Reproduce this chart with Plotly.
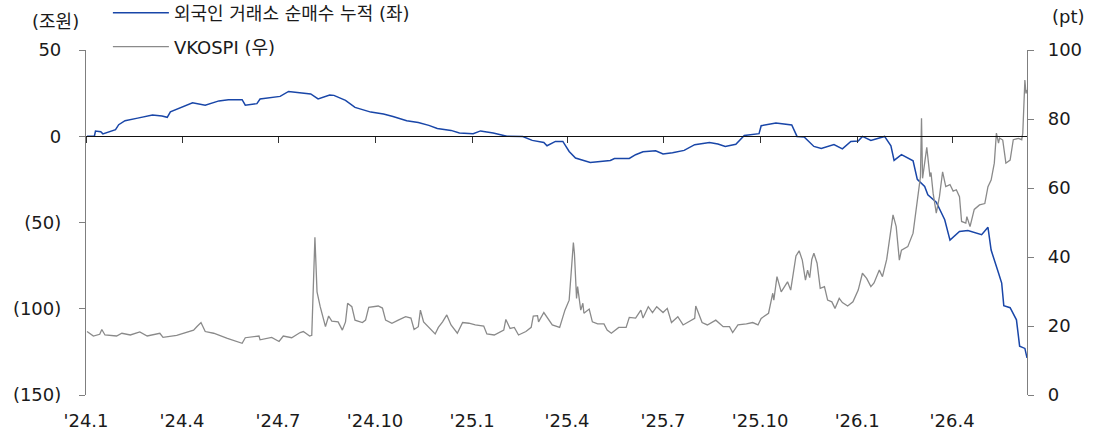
import plotly.graph_objects as go

# ---- data -----------------------------------------------------------------
flow_dates = [
    "2024-01-02", "2024-01-09", "2024-01-10", "2024-01-15", "2024-01-17", "2024-01-24", "2024-01-29",
    "2024-02-01", "2024-02-07", "2024-02-19", "2024-03-04", "2024-03-13", "2024-03-18", "2024-03-21",
    "2024-03-29", "2024-04-11", "2024-04-23", "2024-05-06", "2024-05-15", "2024-05-28", "2024-05-31",
    "2024-06-11", "2024-06-14", "2024-06-27", "2024-07-03", "2024-07-11", "2024-07-22", "2024-08-01",
    "2024-08-08", "2024-08-19", "2024-08-23", "2024-09-03", "2024-09-12", "2024-09-27", "2024-10-09",
    "2024-10-18", "2024-10-31", "2024-11-11", "2024-11-21", "2024-11-29", "2024-12-12", "2024-12-20",
    "2025-01-02", "2025-01-09", "2025-01-21", "2025-02-03", "2025-02-18", "2025-02-27", "2025-03-10",
    "2025-03-13", "2025-03-21", "2025-03-28", "2025-04-03", "2025-04-09", "2025-04-23", "2025-05-12",
    "2025-05-16", "2025-05-30", "2025-06-05", "2025-06-12", "2025-06-24", "2025-07-01", "2025-07-10",
    "2025-07-21", "2025-07-31", "2025-08-14", "2025-08-22", "2025-08-29", "2025-09-08", "2025-09-16",
    "2025-09-30", "2025-10-02", "2025-10-16", "2025-10-27", "2025-10-31", "2025-11-05", "2025-11-12",
    "2025-11-21", "2025-11-28", "2025-12-10", "2025-12-18", "2025-12-26", "2026-01-02", "2026-01-06",
    "2026-01-14", "2026-01-27", "2026-02-02", "2026-02-05", "2026-02-12", "2026-02-23", "2026-02-27",
    "2026-03-06", "2026-03-09", "2026-03-17", "2026-03-25", "2026-03-30", "2026-04-08", "2026-04-16",
    "2026-04-29", "2026-05-05", "2026-05-08", "2026-05-15", "2026-05-18", "2026-05-20", "2026-05-26",
    "2026-06-01", "2026-06-04", "2026-06-09", "2026-06-11",
]
flow_values = [
    0.0, 0.2, 3.0, 2.6, 1.4, 2.8, 3.8,
    6.7, 9.0, 10.5, 12.3, 11.7, 11.0, 14.2,
    16.3, 19.4, 18.0, 20.5, 21.2, 21.2, 18.0,
    18.9, 21.6, 22.5, 23.1, 26.0, 25.1, 24.5,
    21.6, 23.9, 23.7, 20.8, 16.7, 14.0, 12.9,
    11.5, 9.0, 8.0, 6.3, 4.5, 3.4, 1.9,
    1.5, 3.1, 1.9, 0.0, -0.2, -2.4, -3.6,
    -5.5, -3.0, -3.0, -8.8, -12.6, -15.2, -14.0,
    -12.9, -12.9, -10.7, -9.0, -8.4, -10.3, -9.6,
    -8.2, -4.9, -3.6, -4.5, -5.9, -4.7, 0.5,
    1.5, 6.1, 7.7, 6.7, 6.5, -0.1, -0.5,
    -5.9, -7.1, -4.8, -7.3, -3.0, -2.8, -0.1,
    -2.4, -0.1, -5.5, -14.0, -10.6, -14.2, -25.0,
    -29.1, -33.9, -38.2, -48.4, -60.2, -55.2, -54.6,
    -57.1, -52.8, -66.0, -79.3, -85.1, -98.2, -99.4,
    -106.4, -121.7, -123.0, -128.5,
]

vk_dates = [
    "2024-01-02", "2024-01-08", "2024-01-14", "2024-01-16", "2024-01-19", "2024-01-30", "2024-02-04",
    "2024-02-12", "2024-02-21", "2024-02-28", "2024-03-11", "2024-03-14", "2024-03-27", "2024-04-06",
    "2024-04-12", "2024-04-15", "2024-04-19", "2024-04-23", "2024-05-01", "2024-05-14", "2024-05-23",
    "2024-05-28", "2024-05-31", "2024-06-13", "2024-06-14", "2024-06-25", "2024-07-02", "2024-07-06",
    "2024-07-14", "2024-07-22", "2024-07-25", "2024-07-31", "2024-08-02", "2024-08-05", "2024-08-07",
    "2024-08-10", "2024-08-15", "2024-08-18", "2024-08-21", "2024-08-27", "2024-08-31", "2024-09-03",
    "2024-09-05", "2024-09-09", "2024-09-12", "2024-09-19", "2024-09-22", "2024-09-25", "2024-10-04",
    "2024-10-08", "2024-10-11", "2024-10-17", "2024-10-23", "2024-10-30", "2024-11-04", "2024-11-07",
    "2024-11-11", "2024-11-13", "2024-11-16", "2024-11-23", "2024-11-27", "2024-11-30", "2024-12-04",
    "2024-12-08", "2024-12-12", "2024-12-18", "2024-12-23", "2024-12-29", "2025-01-04", "2025-01-12",
    "2025-01-15", "2025-01-22", "2025-01-31", "2025-02-02", "2025-02-06", "2025-02-10", "2025-02-14",
    "2025-02-21", "2025-02-26", "2025-02-28", "2025-03-04", "2025-03-05", "2025-03-10", "2025-03-18",
    "2025-03-25", "2025-03-30", "2025-04-03", "2025-04-07", "2025-04-08", "2025-04-10", "2025-04-11",
    "2025-04-14", "2025-04-16", "2025-04-17", "2025-04-22", "2025-04-25", "2025-04-30", "2025-05-06",
    "2025-05-09", "2025-05-13", "2025-05-20", "2025-05-27", "2025-05-30", "2025-06-05", "2025-06-10",
    "2025-06-12", "2025-06-17", "2025-06-21", "2025-06-25", "2025-07-01", "2025-07-05", "2025-07-09",
    "2025-07-15", "2025-07-20", "2025-07-31", "2025-08-01", "2025-08-07", "2025-08-12", "2025-08-20",
    "2025-08-27", "2025-09-02", "2025-09-05", "2025-09-10", "2025-09-18", "2025-09-24", "2025-09-29",
    "2025-10-02", "2025-10-09", "2025-10-13", "2025-10-14", "2025-10-17", "2025-10-21", "2025-10-27",
    "2025-10-30", "2025-11-04", "2025-11-07", "2025-11-10", "2025-11-13", "2025-11-15", "2025-11-17",
    "2025-11-19", "2025-11-21", "2025-11-24", "2025-11-27", "2025-12-01", "2025-12-04", "2025-12-08",
    "2025-12-11", "2025-12-15", "2025-12-18", "2025-12-23", "2025-12-28", "2026-01-02", "2026-01-06",
    "2026-01-10", "2026-01-14", "2026-01-17", "2026-01-22", "2026-01-25", "2026-01-29", "2026-02-01",
    "2026-02-04", "2026-02-07", "2026-02-10", "2026-02-12", "2026-02-18", "2026-02-23", "2026-02-26",
    "2026-02-28", "2026-03-02", "2026-03-03", "2026-03-04", "2026-03-08", "2026-03-11", "2026-03-12",
    "2026-03-14", "2026-03-17", "2026-03-20", "2026-03-23", "2026-03-26", "2026-03-30", "2026-04-02",
    "2026-04-05", "2026-04-08", "2026-04-10", "2026-04-14", "2026-04-15", "2026-04-18", "2026-04-22",
    "2026-04-27", "2026-05-02", "2026-05-05", "2026-05-08", "2026-05-11", "2026-05-13", "2026-05-15",
    "2026-05-16", "2026-05-19", "2026-05-22", "2026-05-26", "2026-05-29", "2026-06-03", "2026-06-06",
    "2026-06-07", "2026-06-09", "2026-06-10", "2026-06-11",
]
vk_values = [
    18.4, 17.1, 17.6, 19.0, 17.4, 17.1, 17.9,
    17.4, 18.3, 17.1, 17.9, 16.7, 17.3, 18.1,
    18.8, 19.8, 21.0, 18.4, 17.9, 16.4, 15.5,
    15.0, 16.6, 17.1, 16.0, 16.7, 15.5, 17.1,
    16.6, 18.1, 18.4, 17.1, 17.3, 45.7, 29.9,
    25.6, 19.8, 22.9, 21.4, 21.2, 18.8, 21.2,
    26.6, 25.6, 21.7, 21.0, 21.7, 25.4, 25.8,
    25.2, 21.7, 20.8, 21.7, 22.7, 22.3, 19.0,
    19.8, 24.6, 21.2, 18.8, 17.7, 19.6, 21.2,
    23.2, 20.3, 17.9, 21.0, 20.8, 20.3, 20.0,
    17.7, 17.4, 18.8, 21.9, 19.3, 19.6, 17.4,
    18.4, 19.6, 22.9, 23.0, 21.2, 23.9, 20.3,
    19.6, 24.6, 27.5, 44.2, 41.0, 28.0, 31.4,
    24.6, 26.6, 23.7, 24.9, 21.2, 20.6, 20.6,
    18.8, 17.9, 19.6, 19.6, 22.5, 22.3, 24.6,
    22.3, 25.6, 23.9, 25.6, 23.9, 25.1, 21.0,
    22.7, 20.3, 22.2, 25.8, 21.0, 20.3, 21.7,
    19.8, 19.8, 18.1, 20.3, 20.6, 21.0, 20.3,
    22.2, 23.7, 29.5, 27.5, 34.3, 29.9, 32.8,
    30.4, 40.3, 41.8, 39.1, 33.3, 36.2, 34.0,
    39.3, 41.1, 38.2, 30.9, 31.4, 27.5, 27.0,
    25.1, 28.0, 26.8, 25.8, 27.0, 30.4, 35.3,
    33.8, 31.4, 32.5, 36.2, 34.3, 39.3, 45.9,
    52.2, 48.8, 39.1, 42.0, 43.0, 46.9, 54.3,
    59.4, 63.3, 80.2, 62.8, 71.8, 63.3, 64.5,
    58.5, 52.7, 57.5, 64.7, 60.4, 61.0, 59.1,
    59.5, 57.5, 50.3, 49.8, 51.7, 48.8, 53.8,
    55.1, 55.5, 60.4, 62.3, 67.2, 75.9, 73.0,
    74.5, 73.9, 67.2, 68.1, 74.0, 74.4, 74.0,
    75.9, 91.3, 87.4, 88.4,
]

x_tick_dates = ["2024-01-01", "2024-04-01", "2024-07-01", "2024-10-01", "2025-01-01",
                "2025-04-01", "2025-07-01", "2025-10-01", "2026-01-01", "2026-04-01"]
x_tick_labels = ["'24.1", "'24.4", "'24.7", "'24.10", "'25.1",
                 "'25.4", "'25.7", "'25.10", "'26.1", "'26.4"]
left_tick_vals = [50, 0, -50, -100, -150]
left_tick_labels = ["50", "0", "(50)", "(100)", "(150)"]
right_tick_vals = [0, 20, 40, 60, 80, 100]

flow_name = "외국인 거래소 순매수 누적 (좌)"
vk_name = "VKOSPI (우)"

# ---- styles ---------------------------------------------------------------
BLUE = "#1946A8"
GREY = "#8A8A8A"
AXIS = "#7F7F7F"
FONT = "DejaVu Sans, Noto Sans CJK KR, sans-serif"
FS = 18

fig = go.Figure()
fig.add_trace(go.Scatter(
    x=flow_dates, y=flow_values, name=flow_name, mode="lines",
    line=dict(color=BLUE, width=1.5), legend="legend", hoverinfo="skip",
))
fig.add_trace(go.Scatter(
    x=vk_dates, y=vk_values, name=vk_name, mode="lines",
    line=dict(color=GREY, width=1.3), xaxis="x2", yaxis="y2",
    legend="legend2", hoverinfo="skip",
))

x_range = ["2024-01-01", "2026-06-11"]

fig.update_layout(
    width=1101, height=435,
    margin=dict(l=86, r=74, t=50, b=40, autoexpand=False),
    paper_bgcolor="white", plot_bgcolor="white",
    font=dict(family=FONT, size=FS, color="#1a1a1a"),
    xaxis=dict(
        type="date", range=x_range, tickvals=x_tick_dates, ticktext=x_tick_labels,
        showline=False, ticks="", showgrid=False, zeroline=False,
        tickfont=dict(size=FS), ticklabelstandoff=13, automargin=False,
    ),
    xaxis2=dict(
        type="date", overlaying="x", matches="x", anchor="free", position=0.75,
        tickvals=x_tick_dates, showticklabels=False, showline=True,
        linecolor="#111111", linewidth=1, ticks="outside", ticklen=6,
        tickcolor="#333333", tickwidth=1, showgrid=False, zeroline=False,
    ),
    yaxis=dict(
        range=[-150, 50], tickvals=left_tick_vals, ticktext=left_tick_labels,
        showline=True, linecolor=AXIS, linewidth=1.2, ticks="outside", ticklen=6,
        tickcolor=AXIS, showgrid=False, zeroline=False, tickfont=dict(size=FS),
        ticklabelstandoff=14, automargin=False,
    ),
    yaxis2=dict(
        range=[0, 100], tickvals=right_tick_vals, overlaying="y", side="right",
        anchor="x", showline=True, linecolor=AXIS, linewidth=1.2, ticks="outside",
        ticklen=6, tickcolor=AXIS, showgrid=False, zeroline=False,
        tickfont=dict(size=FS), ticklabelstandoff=10, automargin=False,
    ),
    legend=dict(
        xref="container", yref="container", x=0.098, y=1 - 13 / 435,
        xanchor="left", yanchor="middle", bgcolor="rgba(0,0,0,0)",
        font=dict(size=FS), itemwidth=56,
    ),
    legend2=dict(
        xref="container", yref="container", x=0.098, y=1 - 47 / 435,
        xanchor="left", yanchor="middle", bgcolor="rgba(0,0,0,0)",
        font=dict(size=FS), itemwidth=56,
    ),
    annotations=[
        dict(text="(조원)", xref="paper", yref="paper", x=-0.032, y=(395 - 22) / 345,
             xanchor="center", yanchor="middle", showarrow=False, font=dict(size=FS)),
        dict(text="(pt)", xref="paper", yref="paper", x=1.044, y=(395 - 16) / 345,
             xanchor="center", yanchor="middle", showarrow=False, font=dict(size=FS)),
    ],
    showlegend=True,
)

fig.write_html(
    "out.html",
    config={"displayModeBar": False},
    post_script="document.body.style.margin='0px';document.body.style.overflow='hidden';",
)
